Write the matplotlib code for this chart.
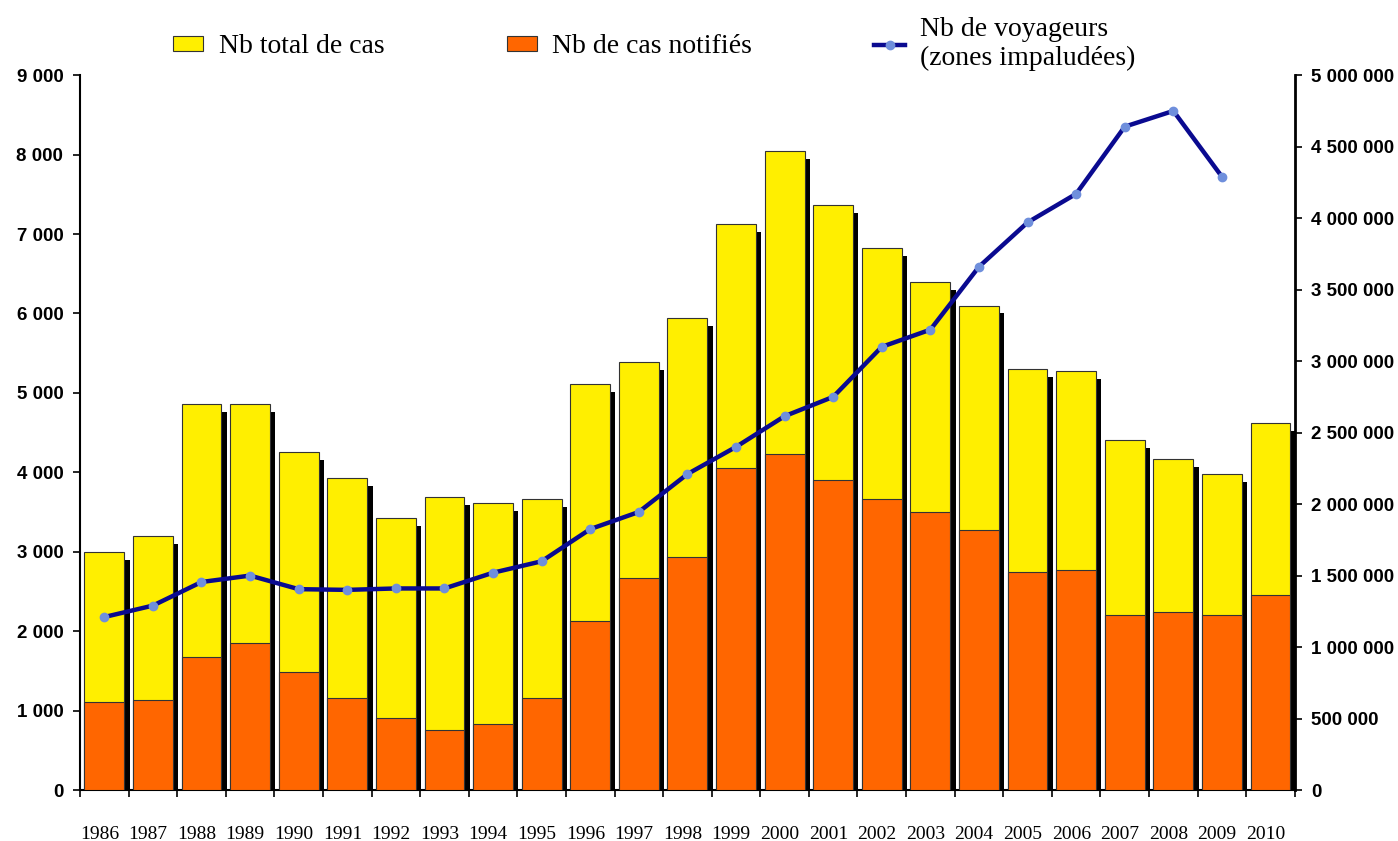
import matplotlib
matplotlib.use("Agg")
import matplotlib.pyplot as plt
import numpy as np
from matplotlib.ticker import FuncFormatter, FixedLocator

# data
years = list(range(1986, 2011))
total_cases = [3000, 3200, 4860, 4860, 4250, 3930, 3420, 3690, 3610, 3660,
               5110, 5390, 5940, 7130, 8040, 7360, 6820, 6400, 6100, 5300,
               5270, 4410, 4170, 3980, 4620]
notified_cases = [1110, 1130, 1670, 1850, 1480, 1160, 910, 760, 830, 1160,
                  2130, 2670, 2930, 4060, 4230, 3900, 3660, 3500, 3280, 2740,
                  2770, 2210, 2240, 2210, 2450]
travellers = [1210000, 1290000, 1455000, 1500000, 1405000, 1400000, 1410000,
              1410000, 1520000, 1600000, 1825000, 1945000, 2210000, 2400000,
              2615000, 2750000, 3100000, 3220000, 3660000, 3970000, 4170000,
              4640000, 4750000, 4290000]

yellow = "#FFEF00"
orange = "#FF6600"
navy = "#0A0A90"
marker_blue = "#6F8FDC"


def spaced(v, pos):
    return "{:,}".format(int(v)).replace(",", " ")


fig = plt.figure(figsize=(13.98, 8.41), dpi=100)
ax = fig.add_axes([0.0572, 0.0606, 0.869, 0.850])
x = np.arange(len(years))
w = 0.82

# black shadow on the right of each bar
ax.bar(x + 0.11, np.array(total_cases) - 100, width=w, color="black", zorder=1)
ax.bar(x, total_cases, width=w, color=yellow, edgecolor="#333333", linewidth=0.8, zorder=2,
       label="Nb total de cas")
ax.bar(x, notified_cases, width=w, color=orange, edgecolor="#333333", linewidth=0.8, zorder=3,
       label="Nb de cas notifiés")

ax.set_xlim(-0.5, len(years) - 0.5)
ax.set_ylim(0, 9000)
ax.set_yticks(np.arange(0, 9001, 1000))
ax.yaxis.set_major_formatter(FuncFormatter(spaced))
ax.set_xticks(x - 0.1)
ax.set_xticklabels([str(y) for y in years], fontfamily="Liberation Serif", fontsize=14)
ax.xaxis.set_minor_locator(FixedLocator(np.arange(-0.5, len(years), 1.0)))
ax.tick_params(axis="x", which="major", length=0, pad=26)
ax.tick_params(axis="x", which="minor", length=5, width=1.2, direction="out")
ax.tick_params(axis="y", length=5, width=1.2, direction="out", pad=7)
for lab in ax.get_yticklabels():
    lab.set_fontfamily("Liberation Sans")
    lab.set_fontweight("bold")
    lab.set_fontsize(13.5)
ax.spines["top"].set_visible(False)
ax.spines["right"].set_visible(False)
for s in ["left", "bottom"]:
    ax.spines[s].set_linewidth(1.5)

ax2 = ax.twinx()
ax2.plot(x[:len(travellers)], travellers, color=navy, linewidth=3.2, marker="o",
         markersize=6, markerfacecolor=marker_blue, markeredgecolor=marker_blue,
         label="Nb de voyageurs\n(zones impaludées)", zorder=5)
ax2.set_ylim(0, 5000000)
ax2.set_yticks(np.arange(0, 5000001, 500000))
ax2.yaxis.set_major_formatter(FuncFormatter(spaced))
ax2.tick_params(axis="y", length=5, width=1.2, direction="out", pad=7)
for lab in ax2.get_yticklabels():
    lab.set_fontfamily("Liberation Sans")
    lab.set_fontweight("bold")
    lab.set_fontsize(13.5)
ax2.spines["top"].set_visible(False)
ax2.spines["left"].set_visible(False)
ax2.spines["bottom"].set_visible(False)
ax2.spines["right"].set_linewidth(2)

h1, l1 = ax.get_legend_handles_labels()
h2, l2 = ax2.get_legend_handles_labels()
fig.legend(h1 + h2, l1 + l2, loc="center", bbox_to_anchor=(0.468, 0.948), ncol=3,
           frameon=False, prop={"family": "Liberation Serif", "size": 20},
           handlelength=1.1, handleheight=0.45, handletextpad=0.55, columnspacing=4.4,
           labelspacing=0.1)

fig.savefig("out.png", dpi=100)
